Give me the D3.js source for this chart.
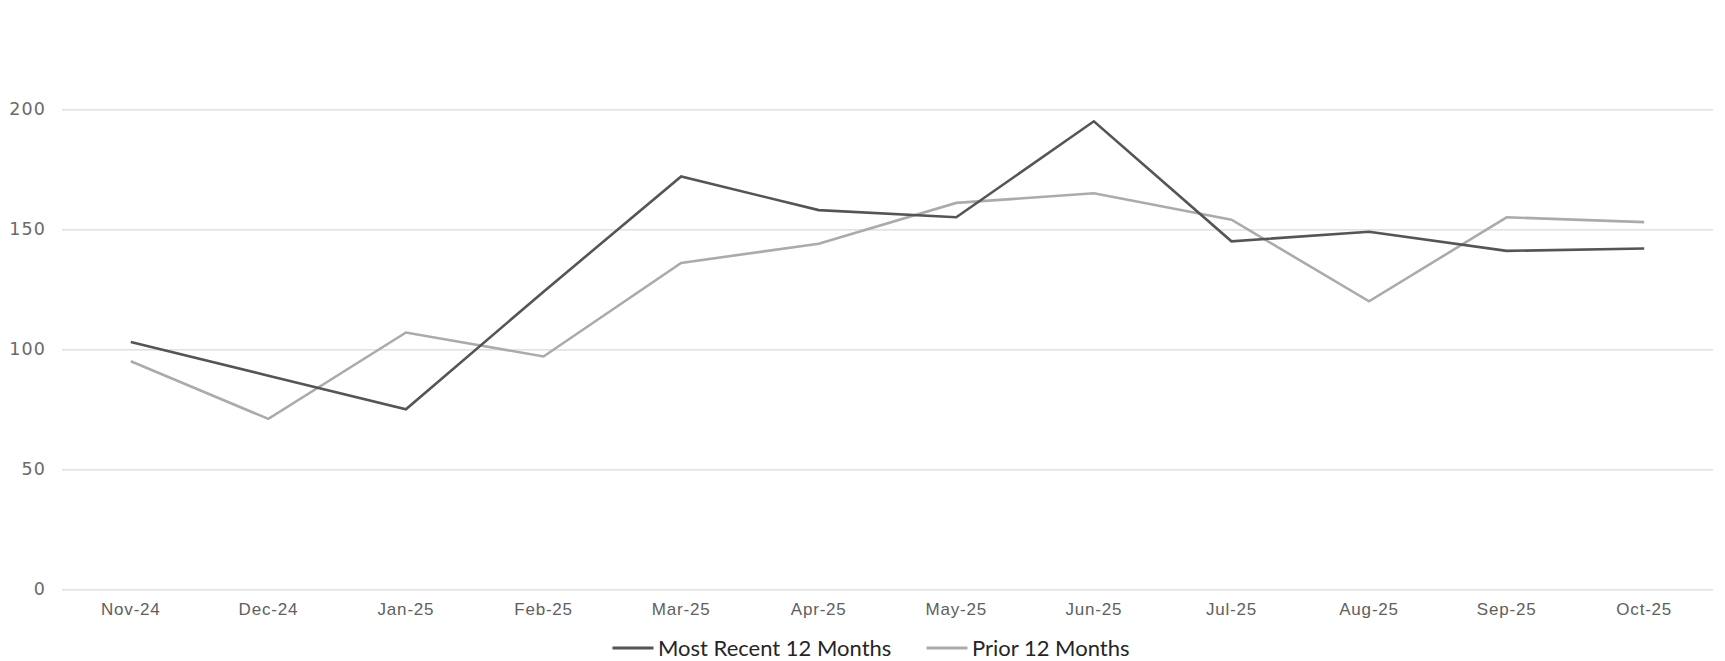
<!DOCTYPE html>
<html><head><meta charset="utf-8">
<script src="https://cdn.jsdelivr.net/npm/d3@7"></script>
<style>body{margin:0;background:#fff}svg{display:block}</style>
</head><body><svg id="c" width="1725" height="661"></svg>
<script>
const categories = ["Nov-24","Dec-24","Jan-25","Feb-25","Mar-25","Apr-25","May-25","Jun-25","Jul-25","Aug-25","Sep-25","Oct-25"];
const mostRecent = [103, 89, 75, 124, 172, 158, 155, 195, 145, 149, 141, 142];
const prior = [95, 71, 107, 97, 136, 144, 161, 165, 154, 120, 155, 153];
const yTicks = [0, 50, 100, 150, 200];
const seriesNames = ["Most Recent 12 Months", "Prior 12 Months"];
const colors = ["#555555", "#ababab"];

const svg = d3.select("#c");
const mLeft = 62, mRight = 1713, mTop = 109.3, mBottom = 589.3;
const x = d3.scaleBand().domain(categories).range([mLeft, mRight]);
const y = d3.scaleLinear().domain([0, 200]).range([mBottom, mTop]);

const yAxis = d3.axisLeft(y).tickValues(yTicks).tickSize(-(mRight - mLeft)).tickPadding(15.8);
const gy = svg.append("g").attr("transform", `translate(${mLeft},0)`).call(yAxis);
gy.select(".domain").remove();
gy.selectAll(".tick line").attr("stroke", "#d9d9d9").attr("stroke-width", 1.3);
gy.selectAll(".tick text").attr("fill", "#6a6a6a").attr("dy", "0.3em")
  .style("font-family", "'DejaVu Sans', sans-serif").style("font-weight", "400")
  .style("font-size", "17.5px").style("letter-spacing", "1.2px");

const xAxis = d3.axisBottom(x).tickSize(0).tickPadding(13.5);
const gx = svg.append("g").attr("transform", `translate(0,${mBottom})`).call(xAxis);
gx.select(".domain").remove();
gx.selectAll(".tick text").attr("fill", "#606060").style("font-family", "'Liberation Sans', Arial, sans-serif")
  .style("font-size", "17px").style("letter-spacing", "0.8px");

const line = d3.line().x((d, i) => x(categories[i]) + x.bandwidth() / 2).y(d => y(d));
[[prior, colors[1]], [mostRecent, colors[0]]].forEach(([s, c]) => {
  svg.append("path").datum(s).attr("d", line).attr("fill", "none")
    .attr("stroke", c).attr("stroke-width", 2.6).attr("stroke-linejoin", "miter");
});

const legend = [{name: seriesNames[0], c: colors[0], x: 612.5}, {name: seriesNames[1], c: colors[1], x: 926.5}];
const lg = svg.append("g");
legend.forEach(l => {
  lg.append("line").attr("x1", l.x).attr("x2", l.x + 41).attr("y1", 648).attr("y2", 648)
    .attr("stroke", l.c).attr("stroke-width", 3);
  lg.append("text").attr("x", l.x + 45.5).attr("y", 648).attr("dy", "0.36em")
    .attr("fill", "#262626").style("font-family", "Lato, 'Open Sans', sans-serif").style("font-size", "22px")
    .text(l.name);
});
</script></body></html>
